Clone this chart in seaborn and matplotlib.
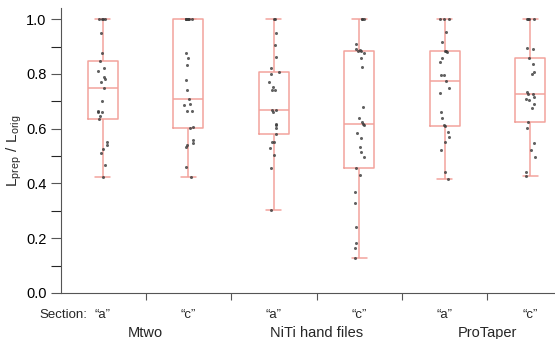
import matplotlib
matplotlib.use("Agg")
import matplotlib.pyplot as plt
import matplotlib.ticker as mticker
import seaborn as sns
import numpy as np
import pandas as pd

# valores (L_prep / L_orig)
mtwo_a = [0.425, 0.467, 0.51, 0.525, 0.54, 0.55, 0.635, 0.645, 0.66, 0.66, 0.665, 0.70, 0.75,
          0.77, 0.78, 0.79, 0.81, 0.82, 0.848, 0.875, 0.948, 1.0, 1.0, 1.0, 1.0]
mtwo_c = [0.424, 0.461, 0.534, 0.540, 0.546, 0.558, 0.603, 0.607, 0.666, 0.666, 0.685, 0.69, 0.707,
          0.741, 0.777, 0.832, 0.857, 0.875, 1.0, 1.0, 1.0, 1.0, 1.0, 1.0, 1.0]
niti_a = [0.303, 0.455, 0.504, 0.528, 0.552, 0.552, 0.579, 0.601, 0.615, 0.619, 0.66, 0.668, 0.668,
          0.741, 0.741, 0.753, 0.771, 0.80, 0.808, 0.82, 0.862, 0.905, 0.95, 1.0, 1.0]
niti_c = [0.129, 0.163, 0.181, 0.242, 0.327, 0.37, 0.431, 0.455, 0.497, 0.516, 0.534, 0.565, 0.583,
          0.613, 0.619, 0.625, 0.638, 0.68, 0.826, 0.857, 0.875, 0.884, 0.884, 0.886, 0.89, 0.911,
          1.0, 1.0, 1.0]
pro_a = [0.418, 0.443, 0.522, 0.552, 0.57, 0.589, 0.609, 0.613, 0.638, 0.662, 0.729, 0.747, 0.775,
         0.796, 0.796, 0.844, 0.857, 0.881, 0.884, 0.884, 0.917, 0.954, 1.0, 1.0, 1.0]
pro_c = [0.428, 0.443, 0.497, 0.522, 0.546, 0.601, 0.623, 0.674, 0.69, 0.705, 0.71, 0.717, 0.725,
         0.728, 0.735, 0.80, 0.808, 0.838, 0.86, 0.89, 0.893, 1.0, 1.0, 1.0, 1.0]

secoes = ["\u201ca\u201d", "\u201cc\u201d"] * 3
series = [mtwo_a, mtwo_c, niti_a, niti_c, pro_a, pro_c]
nomes_grupo = ["Mtwo", "NiTi hand files", "ProTaper"]

linhas = []
for i, vals in enumerate(series):
    for v in vals:
        linhas.append({"cat": i, "valor": v})
df = pd.DataFrame(linhas)

sns.set_style("ticks")
plt.rcParams["font.family"] = ["Liberation Sans", "DejaVu Sans"]
np.random.seed(3)

fig = plt.figure(figsize=(5.55, 3.39), dpi=100)
ax = fig.add_axes([0.110, 0.1357, 0.890, 0.840])

cor_box = "#f2a39c"
sns.boxplot(data=df, x="cat", y="valor", whis=(0, 100), fill=False, color=cor_box,
            width=0.35, linewidth=1.1, showfliers=False, ax=ax)
sns.stripplot(data=df, x="cat", y="valor", color="#3a3a3a", size=2.2, jitter=0.06,
              alpha=0.8, ax=ax)

ax.set_xlim(-0.49, 5.29)
ax.set_ylim(0, 1.04)
ax.yaxis.set_major_locator(mticker.MultipleLocator(0.2))
ax.yaxis.set_minor_locator(mticker.MultipleLocator(0.1))
ax.yaxis.set_major_formatter(mticker.FormatStrFormatter("%.1f"))
ax.set_xticks([0.5, 1.5, 2.5, 3.5, 4.5])
ax.set_xticklabels([])
ax.tick_params(axis="both", colors="#555555", labelcolor="black", labelsize=10.5)
ax.tick_params(axis="y", which="both", length=7, width=0.8)
ax.tick_params(axis="x", length=5, width=0.8)
for s in ["left", "bottom"]:
    ax.spines[s].set_color("#555555")
    ax.spines[s].set_linewidth(0.8)
sns.despine(ax=ax)
ax.set_xlabel("")
ax.set_ylabel(r"$\mathregular{L_{prep}\ /\ L_{orig}}$", fontsize=11)
ax.yaxis.set_label_coords(-0.075, 0.5)

trans = ax.get_xaxis_transform()
for i, s in enumerate(secoes):
    ax.text(i, -0.076, s, transform=trans, ha="center", va="center", fontsize=9.5)
ax.text(-0.18, -0.076, "Section:", transform=trans, ha="right", va="center", fontsize=9.5)
for j, g in enumerate(nomes_grupo):
    ax.text(2 * j + 0.5, -0.142, g, transform=trans, ha="center", va="center", fontsize=10.5)

fig.savefig("out.png", dpi=100)
